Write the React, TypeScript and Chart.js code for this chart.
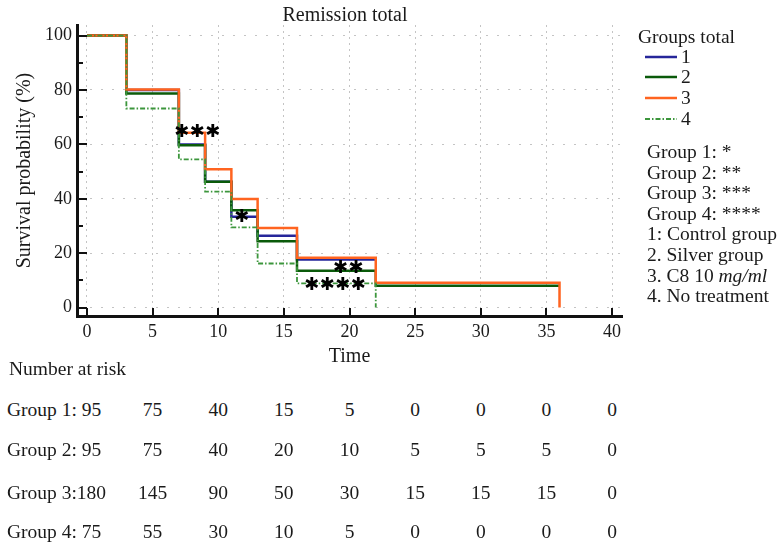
import React, { useEffect, useRef, useState } from "react";
import { Chart, registerables } from "chart.js";

Chart.register(...registerables);

const SERIF = '"Liberation Serif", "Times New Roman", serif';

const chartTitle = "Remission total";
const xAxisTitle = "Time";
const yAxisTitle = "Survival probability (%)";
const legendTitle = "Groups total";

const groupNames = ["1", "2", "3", "4"];
const groupColors = ["#26269a", "#0a5a0a", "#ff6420", "#3c963c"];

// Kaplan-Meier steps: time of each step and survival (%) after it
const g1Times = [0, 3, 7, 9, 11, 13, 16, 22];
const g1Surv = [100, 80, 60, 46.3, 33.4, 26.4, 17.7, 17.7];
const g2Times = [0, 3, 7, 9, 11, 13, 16, 22, 36];
const g2Surv = [100, 78.7, 59.7, 46.3, 35.8, 24.4, 13.5, 8.0, 8.0];
const g3Times = [0, 3, 7, 9, 11, 13, 16, 22, 36];
const g3Surv = [100, 80.2, 64.3, 50.9, 39.9, 29.3, 18.3, 9.1, 0];
const g4Times = [0, 3, 7, 9, 11, 13, 16, 22];
const g4Surv = [100, 73.2, 54.5, 42.6, 29.5, 16.2, 8.9, 0];

// significance markers
const starLabels = ["***", "*", "**", "****"];
const starTimes = [8.4, 11.8, 19.9, 18.9];
const starValues = [64.3, 33.0, 14.4, 8.0];

// number at risk table
const riskTimes = [0, 5, 10, 15, 20, 25, 30, 35, 40];
const riskG1 = [95, 75, 40, 15, 5, 0, 0, 0, 0];
const riskG2 = [95, 75, 40, 20, 10, 5, 5, 5, 0];
const riskG3 = [180, 145, 90, 50, 30, 15, 15, 15, 0];
const riskG4 = [75, 55, 30, 10, 5, 0, 0, 0, 0];
const riskTitle = "Number at risk";

const noteLines = [
  "Group 1: *",
  "Group 2: **",
  "Group 3: ***",
  "Group 4: ****",
  "1: Control group",
  "2. Silver group",
  "3. C8 10 mg/ml",
  "4. No treatment",
];

const overlayPlugin = {
  id: "kmOverlay",
  afterDatasetsDraw(chart: any) {
    const { ctx, scales } = chart;
    const xs = scales.x;
    const ys = scales.y;
    ctx.save();
    ctx.fillStyle = "#000";
    ctx.font = 'bold 18px "DejaVu Sans"';
    ctx.textAlign = "center";
    ctx.textBaseline = "middle";
    starLabels.forEach((lab, i) => {
      const cx = xs.getPixelForValue(starTimes[i]);
      const cy = ys.getPixelForValue(starValues[i]);
      const n = lab.length;
      const gap = 15.5;
      for (let k = 0; k < n; k++) {
        ctx.fillText("\u2731", cx + (k - (n - 1) / 2) * gap, cy);
      }
    });
    ctx.restore();
  },
  afterDraw(chart: any) {
    const { ctx, chartArea, scales } = chart;
    const xs = scales.x;
    const ys = scales.y;
    ctx.save();
    ctx.strokeStyle = "#111";
    ctx.lineWidth = 2;
    ctx.beginPath();
    xs.ticks.forEach((t: any) => {
      const px = Math.round(xs.getPixelForValue(t.value));
      ctx.moveTo(px, chartArea.bottom);
      ctx.lineTo(px, chartArea.bottom - 8);
    });
    const yt = ys.ticks.map((t: any) => t.value);
    yt.forEach((v: number) => {
      const py = Math.round(ys.getPixelForValue(v));
      ctx.moveTo(chartArea.left, py);
      ctx.lineTo(chartArea.left + 10, py);
    });
    for (let i = 0; i < yt.length - 1; i++) {
      const py = Math.round(ys.getPixelForValue((yt[i] + yt[i + 1]) / 2));
      ctx.moveTo(chartArea.left, py);
      ctx.lineTo(chartArea.left + 6, py);
    }
    ctx.stroke();
    ctx.restore();
  },
};

const mk = (times: number[], vals: number[]) => times.map((t, i) => ({ x: t, y: vals[i] }));

const textStyle: React.CSSProperties = {
  position: "absolute",
  fontFamily: SERIF,
  fontSize: "19.5px",
  lineHeight: "20px",
  color: "#1a1a1a",
  whiteSpace: "nowrap",
};

export default function App() {
  const canvasRef = useRef<HTMLCanvasElement>(null);
  const [cols, setCols] = useState<number[]>([]);

  useEffect(() => {
    const canvas = canvasRef.current!;
    const tickFont = { family: SERIF, size: 18 };
    const chart = new Chart(canvas, {
      type: "line",
      data: {
        datasets: [
          { label: groupNames[0], data: mk(g1Times, g1Surv), borderColor: groupColors[0], borderWidth: 2.5, stepped: true, pointRadius: 0, fill: false, order: 4, borderJoinStyle: "miter" },
          { label: groupNames[1], data: mk(g2Times, g2Surv), borderColor: groupColors[1], borderWidth: 2.5, stepped: true, pointRadius: 0, fill: false, order: 3, borderJoinStyle: "miter" },
          { label: groupNames[2], data: mk(g3Times, g3Surv), borderColor: groupColors[2], borderWidth: 2.5, stepped: true, pointRadius: 0, fill: false, order: 2, borderJoinStyle: "miter" },
          { label: groupNames[3], data: mk(g4Times, g4Surv), borderColor: groupColors[3], borderWidth: 1.8, borderDash: [5, 2, 1.5, 2], stepped: true, pointRadius: 0, fill: false, order: 1 },
        ],
      } as any,
      options: {
        animation: false,
        responsive: false,
        devicePixelRatio: 1,
        layout: { padding: 0 },
        plugins: {
          legend: { display: false },
          tooltip: { enabled: false },
          title: {
            display: true,
            text: chartTitle,
            color: "#1a1a1a",
            font: { family: SERIF, size: 20, weight: "normal", lineHeight: "19px" } as any,
            padding: { top: 6, bottom: 0 },
          },
        },
        scales: {
          x: {
            type: "linear",
            min: -0.76,
            max: 40.76,
            ticks: { stepSize: 5, includeBounds: false, padding: 5, color: "#1a1a1a", font: tickFont, maxRotation: 0 },
            grid: { color: "#c4c4c4", lineWidth: 1, drawTicks: false },
            border: { display: true, color: "#111", width: 3, dash: [2, 4] },
            title: { display: true, text: xAxisTitle, color: "#1a1a1a", font: { family: SERIF, size: 20 }, padding: { top: 0, bottom: 3 } },
            afterFit: (s: any) => { s.height = 56; },
          },
          y: {
            type: "linear",
            min: -3.1,
            max: 103.9,
            ticks: { stepSize: 20, includeBounds: false, padding: 5, color: "#1a1a1a", font: tickFont },
            grid: { color: "#c4c4c4", lineWidth: 1, drawTicks: false },
            border: { display: true, color: "#111", width: 3, dash: [2, 9] },
            title: { display: true, text: yAxisTitle, color: "#1a1a1a", font: { family: SERIF, size: 20 }, padding: { top: 13, bottom: 0 } },
            afterFit: (s: any) => { s.width = 77; },
          },
          yR: {
            type: "linear",
            position: "right",
            display: true,
            grid: { display: false },
            border: { display: false },
            ticks: { display: false },
            afterFit: (s: any) => { s.width = 68; },
          },
        },
      } as any,
      plugins: [overlayPlugin],
    });
    setCols(riskTimes.map((t) => chart.scales.x.getPixelForValue(t)));
    return () => chart.destroy();
  }, []);

  const riskRows = [riskG1, riskG2, riskG3, riskG4];
  const rowCenters = [410, 450, 493, 532];
  const legendCenters = [57, 77, 98, 119];

  return (
    <div style={{ position: "absolute", left: 0, top: 0, width: 783, height: 547, background: "#fff", overflow: "hidden" }}>
      <canvas ref={canvasRef} width={690} height={372} style={{ position: "absolute", left: 0, top: 0, width: 690, height: 372 }} />

      {/* legend */}
      <div style={{ ...textStyle, left: 638, top: 27 }}>{legendTitle}</div>
      {groupNames.map((g, i) => (
        <React.Fragment key={g}>
          <svg style={{ position: "absolute", left: 645, top: legendCenters[i] - 3 }} width={32} height={6}>
            <line
              x1={0}
              y1={3}
              x2={32}
              y2={3}
              stroke={groupColors[i]}
              strokeWidth={i === 3 ? 1.8 : 2.5}
              strokeDasharray={i === 3 ? "5 2 1.5 2" : undefined}
            />
          </svg>
          <div style={{ ...textStyle, left: 681, top: legendCenters[i] - 10 }}>{g}</div>
        </React.Fragment>
      ))}
      <div style={{ ...textStyle, left: 647, top: 142, lineHeight: "20.6px" }}>
        {noteLines.map((l, i) => {
          const k = l.indexOf("mg/ml");
          return (
            <div key={i}>
              {k >= 0 ? (
                <>
                  {l.slice(0, k)}
                  <i>{l.slice(k)}</i>
                </>
              ) : (
                l
              )}
            </div>
          );
        })}
      </div>

      {/* number at risk */}
      <div style={{ ...textStyle, left: 9, top: 359 }}>{riskTitle}</div>
      {cols.length > 0 &&
        riskRows.map((row, r) => (
          <React.Fragment key={r}>
            <div style={{ ...textStyle, left: 7, top: rowCenters[r] - 10 }}>
              {`Group ${r + 1}:${row[0] >= 100 ? "" : " "}${row[0]}`}
            </div>
            {row.slice(1).map((v, i) => (
              <div
                key={i}
                style={{ ...textStyle, left: cols[i + 1] - 30, width: 60, textAlign: "center", top: rowCenters[r] - 10 }}
              >
                {v}
              </div>
            ))}
          </React.Fragment>
        ))}
    </div>
  );
}
